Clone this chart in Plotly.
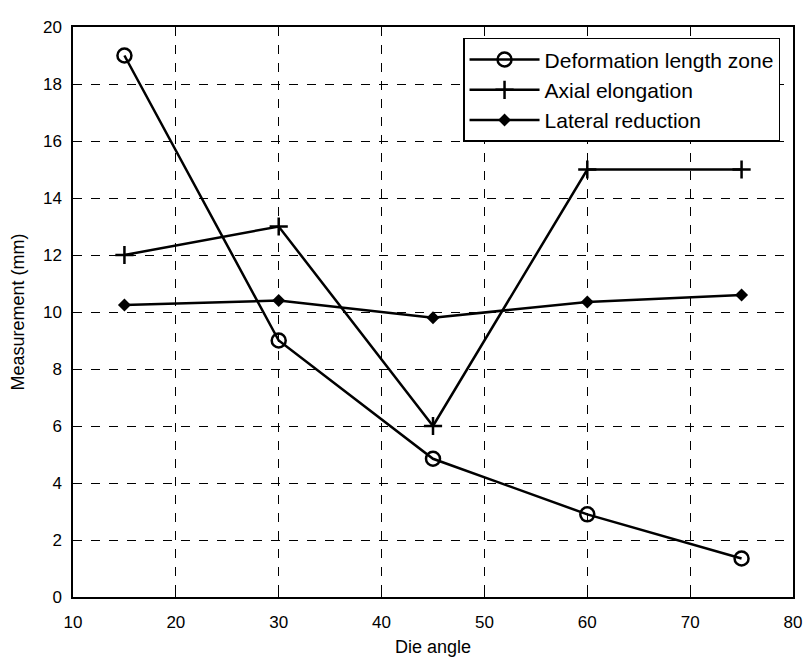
import plotly.graph_objects as go

die_angle = [15, 30, 45, 60, 75]
deformation_length_zone = [19.0, 9.0, 4.85, 2.9, 1.35]
axial_elongation = [12.0, 13.0, 6.0, 15.0, 15.0]
lateral_reduction = [10.25, 10.4, 9.8, 10.35, 10.6]

x_ticks = [10, 20, 30, 40, 50, 60, 70, 80]
y_ticks = [0, 2, 4, 6, 8, 10, 12, 14, 16, 18, 20]

FONT = "Liberation Sans, Arial, sans-serif"

fig = go.Figure()
fig.add_trace(go.Scatter(
    x=die_angle, y=deformation_length_zone, name="Deformation length zone",
    mode="lines+markers",
    line=dict(color="black", width=2.5),
    marker=dict(symbol="circle-open", size=14, color="black", line=dict(width=2.5)),
))
fig.add_trace(go.Scatter(
    x=die_angle, y=axial_elongation, name="Axial elongation",
    mode="lines+markers",
    line=dict(color="black", width=2.5),
    marker=dict(symbol="cross-thin-open", size=13, color="black", line=dict(width=2.5, color="black")),
))
fig.add_trace(go.Scatter(
    x=die_angle, y=lateral_reduction, name="Lateral reduction",
    mode="lines+markers",
    line=dict(color="black", width=2.5),
    marker=dict(symbol="diamond", size=10, color="black"),
))

axis_common = dict(
    showline=True, linecolor="black", linewidth=1.5, mirror=True,
    showgrid=True, gridcolor="black", gridwidth=1.2, griddash="dash",
    ticks="inside", ticklen=5, tickcolor="black",
    zeroline=False, automargin=False,
    tickfont=dict(family=FONT, size=17, color="black"),
)

fig.update_xaxes(
    range=[10, 80], tickvals=x_ticks, ticktext=[str(v) for v in x_ticks],
    ticklabelstandoff=9,
    title=dict(text="Die angle", font=dict(family=FONT, size=18, color="black"), standoff=10),
    **axis_common,
)
fig.update_yaxes(
    range=[0, 20], tickvals=y_ticks, ticktext=[str(v) for v in y_ticks],
    ticklabelstandoff=6,
    title=dict(text="Measurement (mm)", font=dict(family=FONT, size=18, color="black"), standoff=14),
    **axis_common,
)

fig.update_layout(
    width=804, height=657,
    margin=dict(l=73, r=11, t=27, b=60),
    paper_bgcolor="white", plot_bgcolor="white",
    font=dict(family=FONT, color="black"),
    showlegend=True,
    legend=dict(
        x=0.982, y=0.981, xanchor="right", yanchor="top",
        bgcolor="white", bordercolor="black", borderwidth=1.5,
        font=dict(family=FONT, size=21, color="black"),
        itemwidth=70, tracegroupgap=0,
    ),
)

fig.write_html(
    "out.html",
    config={"displayModeBar": False},
    post_script="document.body.style.margin='0';document.body.style.overflow='hidden';",
)
